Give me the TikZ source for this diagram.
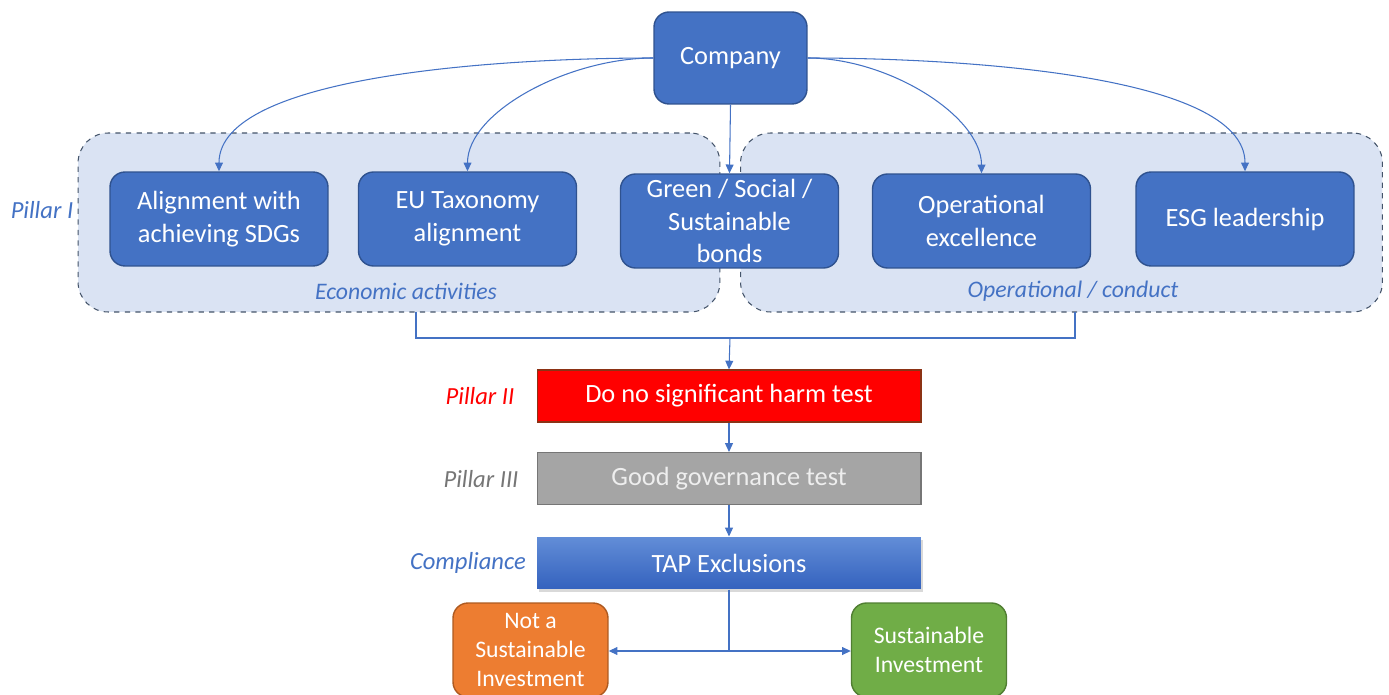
\documentclass[tikz,border=0pt]{standalone}
\usepackage{fontspec}
\setmainfont{Carlito}
\usetikzlibrary{arrows.meta,shadows}
\definecolor{box_blue}{RGB}{68, 114, 196}
\definecolor{box_edge}{RGB}{47, 82, 143}
\definecolor{grp_fill}{RGB}{218, 227, 243}
\definecolor{grp_edge}{RGB}{68, 84, 106}
\definecolor{dnsh_red}{RGB}{255, 0, 0}
\definecolor{dnsh_edge}{RGB}{140, 50, 20}
\definecolor{gov_grey}{RGB}{165, 165, 165}
\definecolor{gov_edge}{RGB}{118, 118, 118}
\definecolor{gov_text}{RGB}{238, 238, 238}
\definecolor{tap_top}{RGB}{98, 141, 215}
\definecolor{tap_bot}{RGB}{52, 98, 190}
\definecolor{res_orange}{RGB}{237, 125, 49}
\definecolor{res_orange_edge}{RGB}{174, 90, 33}
\definecolor{res_green}{RGB}{112, 173, 71}
\definecolor{res_green_edge}{RGB}{80, 126, 50}
\tikzstyle{bn}=[rectangle,rounded corners=0.3cm,fill=box_blue,draw=box_edge,
  line width=0.8pt,text=white,align=center,inner sep=2pt,
  font=\fontsize{15}{18.5}\selectfont,minimum width=4.36cm,minimum height=1.88cm]
\tikzstyle{grp}=[rectangle,rounded corners=0.6cm,fill=grp_fill,draw=grp_edge,
  dashed,line width=0.6pt,minimum width=12.84cm,minimum height=3.58cm]
\tikzstyle{tst}=[rectangle,line width=0.6pt,text=white,
  font=\fontsize{15}{18}\selectfont,minimum width=7.68cm,minimum height=1.04cm]
\tikzstyle{res}=[rectangle,rounded corners=0.3cm,line width=0.8pt,text=white,
  align=center,font=\fontsize{13.5}{16.5}\selectfont,minimum width=3.1cm,minimum height=1.88cm]
\tikzstyle{lbl}=[font=\fontsize{14}{16}\selectfont\itshape,text=box_blue]
\tikzstyle{arr}=[draw=box_blue,line width=0.6pt,-{Triangle[length=5pt,width=4.5pt]}]
\tikzstyle{ln}=[draw=box_blue,line width=0.6pt]
\tikzstyle{none}=[inner sep=0pt]
\begin{document}
\begin{tikzpicture}[x=0.02cm,y=-0.02cm]
		\useasboundingbox (0, 0) rectangle (1389, 695);
		\node [style=grp] (0) at (399, 222.5) {};
		\node [style=grp] (1) at (1061.5, 222.5) {};
		\node [style=bn, minimum width=3.06cm, minimum height=1.84cm] (2) at (730.5, 58) {Company};
		\node [style=bn] (3) at (219, 219) {Alignment with\\achieving SDGs};
		\node [style=bn] (4) at (467.5, 219) {EU Taxonomy\\alignment};
		\node [style=bn] (5) at (729.5, 221) {Green / Social /\\Sustainable\\bonds};
		\node [style=bn] (6) at (981.5, 221) {Operational\\excellence};
		\node [style=bn] (7) at (1245, 219) {ESG leadership};
		\node [style=lbl, font=\fontsize{13.5}{16}\selectfont\itshape] (8) at (406, 291) {Economic activities};
		\node [style=lbl, font=\fontsize{13.5}{16}\selectfont\itshape] (9) at (1073, 291) {Operational / conduct};
		\node [style=lbl] (10) at (42, 210) {Pillar I};
		\node [style=tst, fill=dnsh_red, draw=dnsh_edge] (11) at (729, 396) {Do no significant harm test};
		\node [style=tst, fill=gov_grey, draw=gov_edge, text=gov_text] (12) at (729, 478.5) {Good governance test};
		\node [style=tst, top color=tap_top, bottom color=tap_bot, draw=none,
		  drop shadow={shadow xshift=1pt, shadow yshift=-1.5pt, opacity=0.3}] (13) at (729, 563) {TAP Exclusions};
		\node [style=lbl, text=dnsh_red] (14) at (480, 396) {Pillar II};
		\node [style=lbl, text=gov_edge] (15) at (481, 479) {Pillar III};
		\node [style=lbl] (16) at (468, 563) {Compliance};
		\node [style=res, fill=res_orange, draw=res_orange_edge] (17) at (530.5, 650) {Not a\\Sustainable\\Investment};
		\node [style=res, fill=res_green, draw=res_green_edge] (18) at (929, 650) {Sustainable\\Investment};
		\node [style=none] (19) at (416, 312) {};
		\node [style=none] (20) at (1075, 312) {};
		\node [style=none] (21) at (416, 338) {};
		\node [style=none] (22) at (1075, 338) {};
		\node [style=none] (23) at (730, 338) {};
		\node [style=none] (24) at (729, 651) {};
		\draw [style=arr] (2.west) to [out=180, in=90, out looseness=0.85, in looseness=0.55] (3.north);
		\draw [style=arr] (2.west) to [out=180, in=90, out looseness=1, in looseness=0.7] (4.north);
		\draw [style=arr] (2.south) to (5.north);
		\draw [style=arr] (2.east) to [out=0, in=90, out looseness=1, in looseness=0.7] (6.north);
		\draw [style=arr] (2.east) to [out=0, in=90, out looseness=0.85, in looseness=0.55] (7.north);
		\draw [style=ln] (19.center) to (21.center) to (22.center) to (20.center);
		\draw [style=arr] (23.center) to (11.north);
		\draw [style=arr] (11.south) to (12.north);
		\draw [style=arr] (12.south) to (13.north);
		\draw [style=ln] (13.south) to (24.center);
		\draw [style=arr] (24.center) to (17.east |- 24.center);
		\draw [style=arr] (24.center) to (18.west |- 24.center);
\end{tikzpicture}
\end{document}
